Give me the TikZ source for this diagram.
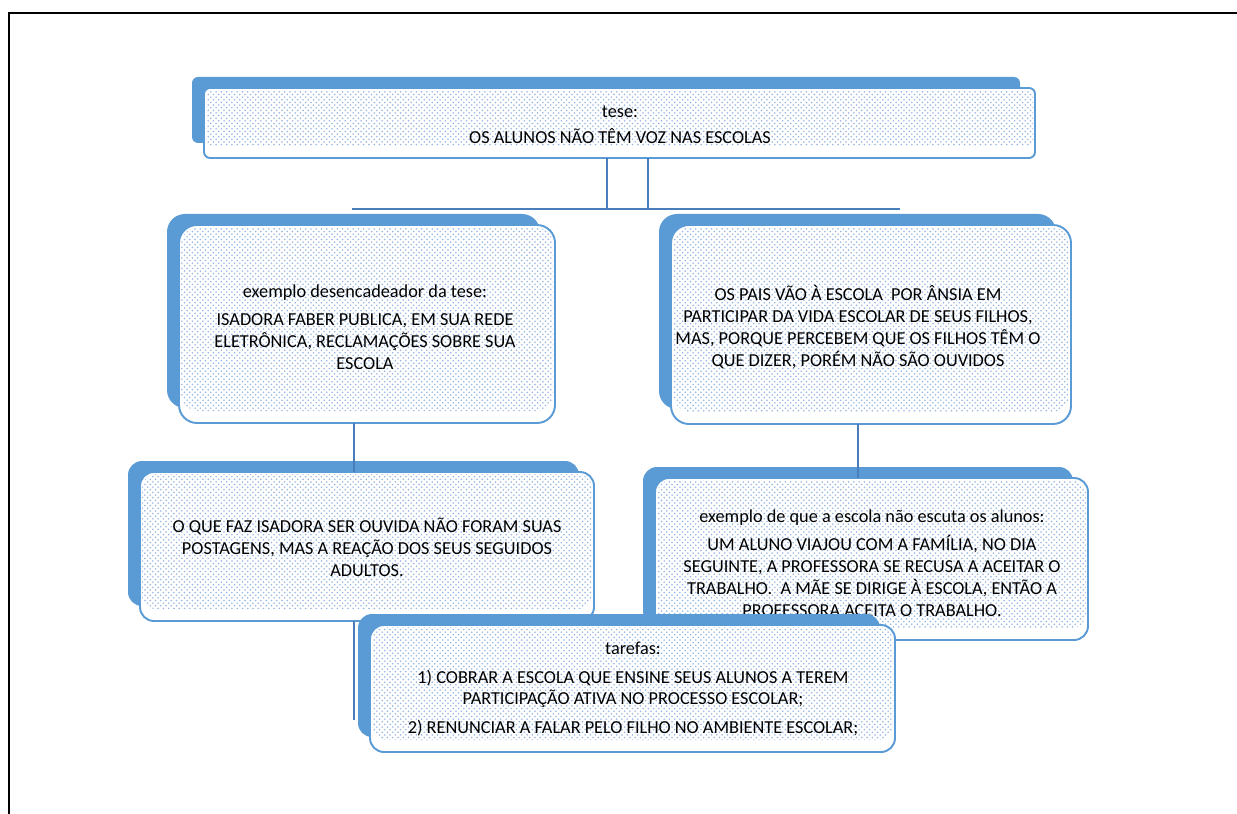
\documentclass[tikz,border=0pt]{standalone}
\usepackage{fontspec}
\setmainfont{Carlito}
\usetikzlibrary{patterns,fit}
\definecolor{office}{RGB}{91,155,213}
\definecolor{connc}{RGB}{74,126,187}
\definecolor{patc}{RGB}{150,182,226}
\tikzset{
  backshape/.style={fill=office},
  frontfill/.style={fill=white},
  frontline/.style={draw=office, line width=1.1pt},
  pat/.style={pattern=crosshatch dots, pattern color=patc},
  txt/.style={align=center, font=\fontsize{10.4}{12.5}\selectfont, inner sep=0pt},
  conn/.style={draw=connc, line width=1.1pt},
  framel/.style={draw=black, line width=1.3pt},
  boxnode/.style={inner sep=0pt, draw=none}
}
% #1 name, #2 x1, #3 y1, #4 x2, #5 y2 (front box, px), #6 corner radius
\newcommand\mkbox[6]{%
  \fill[backshape, rounded corners=#6] (#2-12,#3-11) rectangle (#4-15,#5-15);
  \fill[frontfill, rounded corners=#6] (#2,#3) rectangle (#4,#5);
  \fill[pat, rounded corners=#6] (#2+2,#3+2) rectangle (#4-2,#5-12);
  \draw[frontline, rounded corners=#6] (#2,#3) rectangle (#4,#5);
  \coordinate (#1nw) at (#2,#3);
  \coordinate (#1se) at (#4,#5);
  \node[boxnode, fit=(#1nw)(#1se)] (#1) {};
}
\begin{document}
\begin{tikzpicture}[x=0.02cm,y=-0.02cm]
\useasboundingbox (0,0) rectangle (1237,814);
% page frame
\coordinate (fbl) at (9,814);
\coordinate (ftl) at (9,13);
\coordinate (ftr) at (1237,13);
\draw[framel] (fbl) -- (ftl) -- (ftr);

% thesis
\mkbox{b1}{204}{88}{1035}{158}{0.12cm}
\node[txt] (t1) at (620,125) {tese:\\[2pt] OS ALUNOS NÃO TÊM VOZ NAS ESCOLAS};

% connectors below thesis
\coordinate (h1) at (352,209);
\coordinate (h2) at (900,209);
\coordinate (v1) at (607,209);
\coordinate (v2) at (648,209);
\draw[conn] (h1) -- (h2);
\draw[conn] (b1.south -| v1) -- (v1);
\draw[conn] (b1.south -| v2) -- (v2);

% second row
\mkbox{b2}{179}{225}{555}{423}{0.36cm}
\node[txt] (t2) at (365,327) {exemplo desencadeador da tese:\\[3.4pt]
ISADORA FABER PUBLICA, EM SUA REDE\\
ELETRÔNICA, RECLAMAÇÕES SOBRE SUA\\
ESCOLA};

\mkbox{b4}{671}{225}{1071}{424}{0.36cm}
\node[txt] (t4) at (858,327) {OS PAIS VÃO À ESCOLA\ \ POR ÂNSIA EM\\
PARTICIPAR DA VIDA ESCOLAR DE SEUS FILHOS,\\
MAS, PORQUE PERCEBEM QUE OS FILHOS TÊM O\\
QUE DIZER, PORÉM NÃO SÃO OUVIDOS};

% connectors to third row
\coordinate (c23) at (354,440);
\coordinate (c45) at (858,440);
\coordinate (e36) at (354,720);

\mkbox{b3}{140}{472}{594}{621}{0.28cm}
\node[txt] (t3) at (367,547) {O QUE FAZ ISADORA SER OUVIDA NÃO FORAM SUAS\\
POSTAGENS, MAS A REAÇÃO DOS SEUS SEGUIDOS\\
ADULTOS.};

\mkbox{b5}{655}{478}{1088}{640}{0.28cm}
\node[txt] (t5) at (872,563) {exemplo de que a escola não escuta os alunos:\\[3.4pt]
UM ALUNO VIAJOU COM A FAMÍLIA, NO DIA\\
SEGUINTE, A PROFESSORA SE RECUSA A ACEITAR O\\
TRABALHO.\ \ A MÃE SE DIRIGE À ESCOLA, ENTÃO A\\
PROFESSORA ACEITA O TRABALHO.};

\draw[conn] (b2.south -| c23) -- (b3.north -| c23);
\draw[conn] (b4.south -| c45) -- (b5.north -| c45);
\draw[conn] (b3.south -| c23) -- (e36);

% tasks
\mkbox{b6}{370}{625}{895}{752}{0.28cm}
\node[txt] (t6) at (633,689) {tarefas:\\[4pt]
1) COBRAR A ESCOLA QUE ENSINE SEUS ALUNOS A TEREM\\
PARTICIPAÇÃO ATIVA NO PROCESSO ESCOLAR;\\[4pt]
2) RENUNCIAR A FALAR PELO FILHO NO AMBIENTE ESCOLAR;};
\end{tikzpicture}
\end{document}
